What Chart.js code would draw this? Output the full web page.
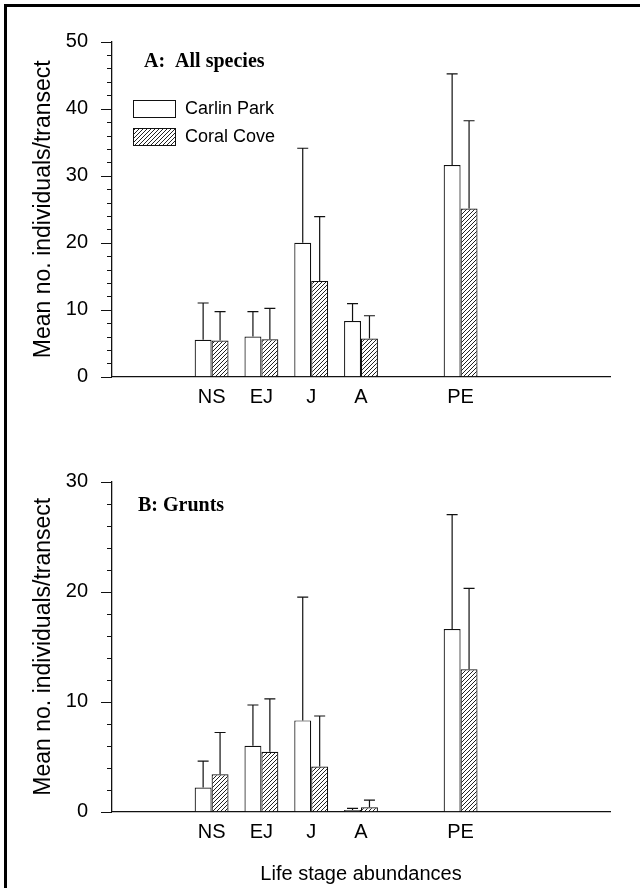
<!DOCTYPE html>
<html>
<head>
<meta charset="utf-8">
<title>Life stage abundances</title>
<script src="https://cdn.jsdelivr.net/npm/chart.js@4.4.1/dist/chart.umd.min.js"></script>
<style>
  html, body { margin: 0; padding: 0; background: #fff; }
  body { width: 640px; height: 888px; position: relative; overflow: hidden; }
  canvas { position: absolute; left: 0; }
  #chartA { top: 0; }
  #chartB { top: 440px; }
  .frame {
    position: absolute; left: 4px; top: 4px; width: 700px; height: 1000px;
    border-left: 3px solid #000; border-top: 3px solid #000; pointer-events: none;
  }
</style>
</head>
<body>
<div class="frame"></div>
<canvas id="chartA" width="640" height="440"></canvas>
<canvas id="chartB" width="640" height="448"></canvas>
<script>
/* ── Data ── */
const stageLabels = ['', '', 'NS', 'EJ', 'J', 'A', '', 'PE', '', '', ''];
const siteNames   = ['Carlin Park', 'Coral Cove'];

// Panel A: all species (mean, and top of the error bar)
const carlinAllMean  = [null, null, 5.5, 6.0, 20.0, 8.3, null, 31.6, null, null, null];
const carlinAllUpper = [null, null, 11.0, 9.7, 34.1, 10.9, null, 45.2, null, null, null];
const coralAllMean   = [null, null, 5.4, 5.6, 14.3, 5.7, null, 25.1, null, null, null];
const coralAllUpper  = [null, null, 9.7, 10.2, 23.9, 9.1, null, 38.2, null, null, null];

// Panel B: grunts
const carlinGruntMean  = [null, null, 2.2, 6.0, 8.3, 0.15, null, 16.6, null, null, null];
const carlinGruntUpper = [null, null, 4.6, 9.7, 19.5, 0.3, null, 27.0, null, null, null];
const coralGruntMean   = [null, null, 3.4, 5.45, 4.1, 0.4, null, 12.95, null, null, null];
const coralGruntUpper  = [null, null, 7.2, 10.25, 8.7, 1.05, null, 20.3, null, null, null];

const SANS  = '"Liberation Sans", Arial, sans-serif';
const SERIF = '"Liberation Serif", "Times New Roman", serif';
const INK   = '#111';

Chart.defaults.font.family = SANS;
Chart.defaults.color = '#000';

/* ── Hatch fill for Coral Cove ── */
function makeHatch() {
    const c = document.createElement('canvas');
    c.width = 4; c.height = 4;
    const g = c.getContext('2d');
    g.fillStyle = '#fff';
    g.fillRect(0, 0, 4, 4);
    g.strokeStyle = '#222';
    g.lineWidth = 1;
    g.beginPath();
    g.moveTo(-1, 5); g.lineTo(5, -1);
    g.moveTo(-1, 1); g.lineTo(1, -1);
    g.moveTo(3, 5);  g.lineTo(5, 3);
    g.stroke();
    return g.createPattern(c, 'repeat');
}
const hatch = makeHatch();

/* ── Error bars (upper whisker + cap) ── */
const errorBars = {
    id: 'errorBars',
    afterDatasetsDraw(chart) {
        const { ctx, scales: { y } } = chart;
        ctx.save();
        ctx.strokeStyle = INK;
        ctx.lineWidth = 1.2;
        chart.data.datasets.forEach((ds, i) => {
            chart.getDatasetMeta(i).data.forEach((bar, j) => {
                const up = ds.upper[j];
                if (up == null || ds.data[j] == null) return;
                const yUp = y.getPixelForValue(up);
                ctx.beginPath();
                ctx.moveTo(bar.x, bar.y);
                ctx.lineTo(bar.x, yUp);
                ctx.moveTo(bar.x - 5.5, yUp);
                ctx.lineTo(bar.x + 5.5, yUp);
                ctx.stroke();
            });
        });
        ctx.restore();
    }
};

/* ── Outward y ticks: long at every 10, short in between ── */
const yTickMarks = {
    id: 'yTickMarks',
    afterDraw(chart) {
        const { ctx, scales: { y } } = chart;
        const x0 = y.right;
        ctx.save();
        ctx.strokeStyle = INK;
        ctx.lineWidth = 1;
        ctx.beginPath();
        y.ticks.forEach(t => {
            const py = Math.round(y.getPixelForValue(t.value)) + 0.5;
            const len = t.value % 10 === 0 ? 11 : 5;
            ctx.moveTo(x0 - len, py);
            ctx.lineTo(x0, py);
        });
        ctx.stroke();
        ctx.restore();
    }
};

/* ── Panel label and inset legend ── */
const panelDecor = {
    id: 'panelDecor',
    afterDraw(chart, args, opts) {
        const ctx = chart.ctx;
        ctx.save();
        ctx.fillStyle = '#000';
        ctx.textBaseline = 'alphabetic';
        ctx.font = 'bold 20px ' + SERIF;
        ctx.fillText(opts.title, opts.titleX, opts.titleY);

        if (opts.legend) {
            ctx.font = '18px ' + SANS;
            chart.data.datasets.forEach((ds, k) => {
                const top = 100 + k * 28;
                ctx.fillStyle = ds.backgroundColor;
                ctx.fillRect(133, top, 42, 17);
                ctx.strokeStyle = INK;
                ctx.lineWidth = 1;
                ctx.strokeRect(133.5, top + 0.5, 42, 17);
                ctx.fillStyle = '#000';
                ctx.fillText(ds.label, 185, top + 13.5);
            });
        }
        ctx.restore();
    }
};

/* ── One panel ── */
function makePanel(id, cfg) {
    const datasets = [
        { label: siteNames[0], data: cfg.carlin, upper: cfg.carlinUp, backgroundColor: '#fff' },
        { label: siteNames[1], data: cfg.coral,  upper: cfg.coralUp,  backgroundColor: hatch }
    ].map(d => Object.assign(d, {
        borderColor: INK,
        borderWidth: 1.2,
        categoryPercentage: 0.68,
        barPercentage: 1.0
    }));

    new Chart(document.getElementById(id), {
        type: 'bar',
        data: { labels: stageLabels, datasets },
        plugins: [errorBars, yTickMarks, panelDecor],
        options: {
            responsive: false,
            animation: false,
            events: [],
            layout: { padding: { top: 41.7, right: 30, left: 0, bottom: 0 } },
            plugins: {
                legend: { display: false },
                tooltip: { enabled: false },
                panelDecor: cfg.decor
            },
            scales: {
                x: {
                    offset: false,
                    afterFit: s => { s.height = cfg.xHeight; },
                    border: { color: INK, width: 1.3 },
                    grid: { display: false, drawTicks: false, drawOnChartArea: false },
                    ticks: { padding: 9, maxRotation: 0, autoSkip: false, color: '#000', font: { size: 20 } },
                    title: {
                        display: !!cfg.xTitle,
                        text: cfg.xTitle || '',
                        color: '#000',
                        font: { size: 20 },
                        padding: { top: 0, bottom: 2 }
                    }
                },
                y: {
                    min: 0, max: cfg.yMax,
                    afterFit: s => { s.width = 112; },
                    border: { color: INK, width: 1.3 },
                    grid: { drawOnChartArea: false, drawTicks: false },
                    ticks: {
                        stepSize: 2,
                        autoSkip: false,
                        padding: 24,
                        color: '#000',
                        font: { size: 20 },
                        callback: v => (v % 10 === 0 ? v : '')
                    },
                    title: {
                        display: true,
                        text: 'Mean no. individuals/transect',
                        color: '#000',
                        font: { size: 23 },
                        padding: { top: 30, bottom: 0 }
                    }
                }
            }
        }
    });
}

makePanel('chartA', {
    carlin: carlinAllMean, carlinUp: carlinAllUpper,
    coral: coralAllMean,   coralUp: coralAllUpper,
    yMax: 50,
    xHeight: 63.3,
    decor: { title: 'A:  All species', titleX: 144, titleY: 66.5, legend: true }
});

makePanel('chartB', {
    carlin: carlinGruntMean, carlinUp: carlinGruntUpper,
    coral: coralGruntMean,   coralUp: coralGruntUpper,
    yMax: 30,
    xHeight: 76.3,
    xTitle: 'Life stage abundances',
    decor: { title: 'B: Grunts', titleX: 138, titleY: 71, legend: false }
});
</script>
</body>
</html>
